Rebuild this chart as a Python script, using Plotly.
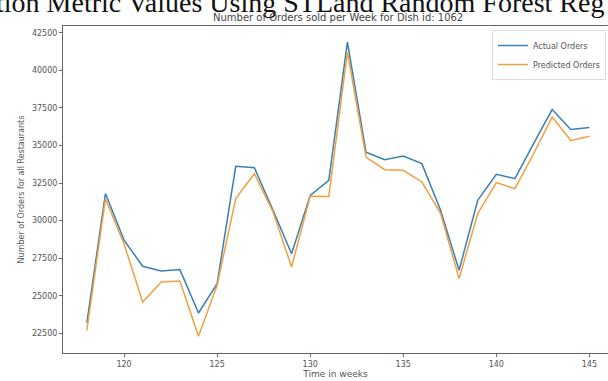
import plotly.graph_objects as go

weeks = list(range(118, 146))
actual_orders = [23200, 31800, 28700, 26960, 26650, 26740, 23850, 25800, 33610, 33520,
                 30700, 27800, 31680, 32680, 41880, 34560, 34050, 34300, 33790, 30700,
                 26690, 31350, 33080, 32790, 35120, 37390, 36060, 36190]
predicted_orders = [22700, 31450, 28450, 24580, 25920, 25980, 22300, 25700, 31460, 33120,
                    30600, 26910, 31620, 31610, 41220, 34230, 33390, 33350, 32570, 30500,
                    26140, 30460, 32530, 32130, 34450, 36900, 35340, 35610]
y_ticks = [22500, 25000, 27500, 30000, 32500, 35000, 37500, 40000, 42500]
x_ticks = [120, 125, 130, 135, 140, 145]

title = "Number of Orders sold per Week for Dish id: 1062"
caption = "tion Metric Values Using STLand Random Forest Reg"

L, R, T, B = 63, 0, 26, 28
W, H = 608, 381
pw, ph = W - L - R, H - T - B

fig = go.Figure()
fig.add_trace(go.Scatter(x=weeks, y=actual_orders, mode="lines", name="Actual Orders",
                         line=dict(color="#3b7fb0", width=1.5)))
fig.add_trace(go.Scatter(x=weeks, y=predicted_orders, mode="lines", name="Predicted Orders",
                         line=dict(color="#f0a040", width=1.5)))

axfont = dict(family="DejaVu Sans", size=8, color="#555")
fig.update_layout(
    width=W, height=H,
    margin=dict(l=L, r=R, t=T, b=B),
    paper_bgcolor="white", plot_bgcolor="white",
    showlegend=True,
    legend=dict(x=(492 - L) / pw, y=1 - (30 - T) / ph, xanchor="left", yanchor="top",
                bgcolor="rgba(255,255,255,0.9)", bordercolor="#ddd", borderwidth=1,
                font=dict(family="DejaVu Sans", size=8, color="#555"),
                tracegroupgap=0, itemwidth=30),
    xaxis=dict(range=[116.72, 146.0], tickvals=x_ticks, tickformat="d", showgrid=False, zeroline=False,
               showline=True, linecolor="#666", linewidth=1, mirror=True,
               ticks="outside", ticklen=3, tickcolor="#666", tickfont=axfont,
               title=dict(text="Time in weeks", font=dict(family="DejaVu Sans", size=9, color="#555"),
                          standoff=2)),
    yaxis=dict(range=[21189, 42952], tickvals=y_ticks, tickformat="d", showgrid=False, zeroline=False,
               showline=True, linecolor="#666", linewidth=1, mirror=False,
               ticks="outside", ticklen=3, tickcolor="#666", tickfont=axfont,
               title=dict(text="Number of Orders for all Restaurants",
                          font=dict(family="DejaVu Sans", size=8, color="#555"), standoff=6)),
    annotations=[
        dict(text=caption, xref="paper", yref="paper", x=(-6 - L) / pw, y=1 + (T - 2.5) / ph,
             xanchor="left", yanchor="middle", showarrow=False,
             font=dict(family="Liberation Serif", size=28, color="#111")),
        dict(text=title, xref="paper", yref="paper", x=(338 - L) / pw, y=1 + (T - 17.5) / ph,
             xanchor="center", yanchor="middle", showarrow=False,
             font=dict(family="DejaVu Sans", size=10, color="#444")),
    ],
)

fig.write_html("out.html", config={"displayModeBar": False},
               post_script="document.body.style.margin='0';")
